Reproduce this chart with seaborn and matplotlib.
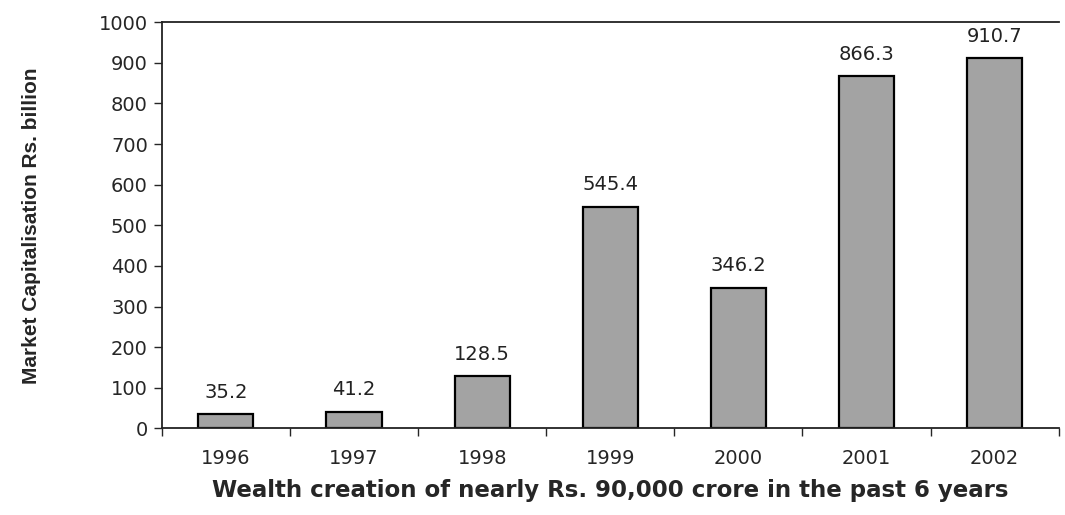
import matplotlib
matplotlib.use("Agg")
import numpy as np
import pandas as pd
import seaborn as sns
import matplotlib.pyplot as plt
from matplotlib.ticker import FixedLocator

# data
years = ["1996", "1997", "1998", "1999", "2000", "2001", "2002"]
market_cap = [35.2, 41.2, 128.5, 545.4, 346.2, 866.3, 910.7]
y_ticks = [0, 100, 200, 300, 400, 500, 600, 700, 800, 900, 1000]

df = pd.DataFrame({"year": years, "cap": market_cap})

sns.set_style("white")
plt.rcParams["font.family"] = ["DejaVu Sans"]

fig = plt.figure(figsize=(10.65, 5.15), dpi=100)
ax = fig.add_axes([0.152, 0.168, 0.842, 0.789])

sns.barplot(data=df, x="year", y="cap", color="#a3a3a3", edgecolor="black",
            linewidth=1.6, width=0.43, saturation=1, ax=ax)

# value labels above the bars
for i, v in enumerate(market_cap):
    ax.annotate(f"{v}", (i, v), xytext=(0, 9), textcoords="offset points",
                ha="center", va="bottom", fontsize=14, color="#222222")

ax.set_ylim(0, 1000)
ax.set_xlim(-0.5, len(years) - 0.5)
ax.set_yticks(y_ticks)
ax.tick_params(axis="y", direction="out", length=6, width=1, labelsize=14,
               left=True, pad=4)
ax.tick_params(axis="x", which="major", length=0, labelsize=14, pad=15)
ax.xaxis.set_minor_locator(FixedLocator(np.arange(-0.5, len(years), 1.0)))
ax.tick_params(axis="x", which="minor", direction="out", length=6, width=1,
               bottom=True)

for side in ["left", "bottom", "top"]:
    ax.spines[side].set_color("#222222")
    ax.spines[side].set_linewidth(1.3)
ax.spines["right"].set_visible(False)

ax.set_xlabel("Wealth creation of nearly Rs. 90,000 crore in the past 6 years",
              fontsize=16.5, fontweight="bold", labelpad=8)
ax.set_ylabel("Market Capitalisation Rs. billion", fontsize=15,
              fontweight="bold", fontstretch="condensed",
              family=["Liberation Sans Narrow", "Liberation Sans"],
              labelpad=42)

fig.savefig("out.png", dpi=100)
